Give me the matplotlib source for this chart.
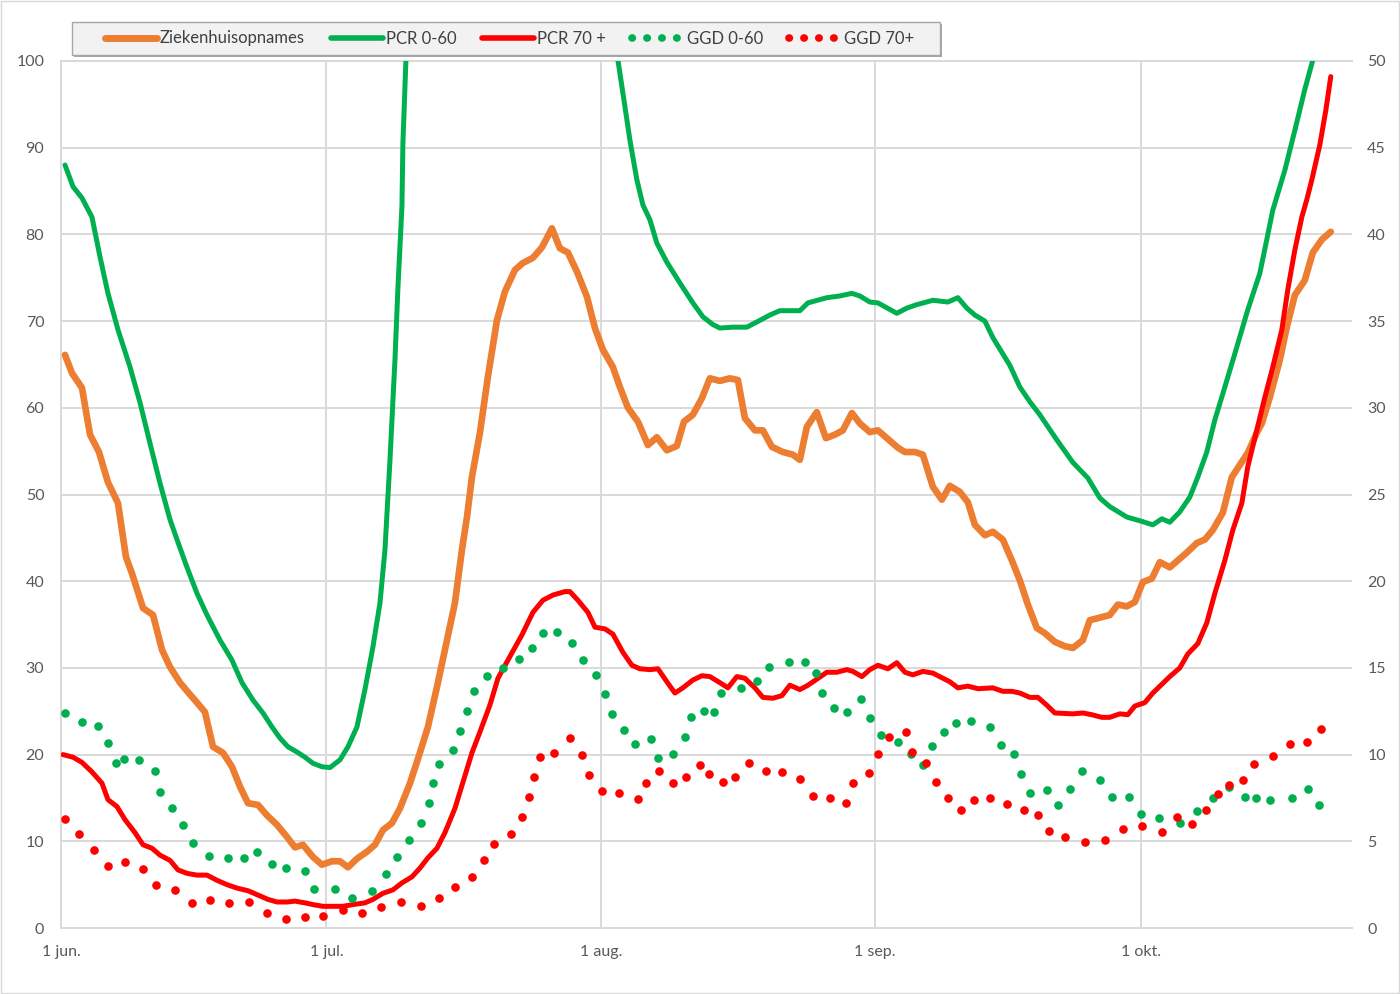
import matplotlib
matplotlib.use("Agg")
import matplotlib.pyplot as plt
from matplotlib.lines import Line2D
from matplotlib.patches import Rectangle
import numpy as np

plt.rcParams['font.family'] = ['Lato', 'DejaVu Sans']

# ---------------- data (days since 1 June) ----------------
month_ticks = [0, 30, 61, 92, 122]
month_labels = ["1 jun.", "1 jul.", "1 aug.", "1 sep.", "1 okt."]
left_ticks = list(range(0, 101, 10))
right_ticks = list(range(0, 51, 5))

zkh_days = [0.45, 1.24, 2.37, 3.28, 4.29, 5.31, 6.44, 7.34, 8.02, 9.27, 10.40, 11.41, 12.32, 13.45,
            14.35, 15.37, 16.27, 17.18, 18.31, 19.32, 20.23, 21.13, 22.26, 23.28, 24.41, 25.54,
            26.44, 27.34, 28.47, 29.49, 30.62, 31.53, 32.43, 33.45, 34.58, 35.48, 36.38, 37.40,
            38.31, 39.44, 40.56, 41.47, 42.49, 43.39, 44.52, 45.31, 45.88, 46.44, 47.34, 48.25,
            49.27, 50.17, 51.30, 52.20, 53.33, 54.35, 55.48, 56.38, 57.29, 58.31, 59.44, 60.34,
            61.24, 62.37, 63.16, 64.07, 65.20, 66.33, 67.34, 68.47, 69.60, 70.40, 71.41, 72.43,
            73.33, 74.46, 75.59, 76.50, 77.29, 78.42, 79.32, 80.34, 81.58, 82.71, 83.50, 84.29,
            85.42, 86.44, 87.46, 88.36, 89.38, 90.28, 91.41, 92.32, 93.33, 94.58, 95.37, 96.50,
            97.40, 98.53, 99.55, 100.45, 101.58, 102.49, 103.28, 104.41, 105.31, 106.44, 107.46,
            108.36, 109.27, 110.28, 111.19, 112.32, 113.45, 114.35, 115.48, 116.27, 117.40,
            118.53, 119.44, 120.45, 121.36, 122.26, 123.28, 124.18, 125.31, 126.21, 127.23,
            128.36, 129.27, 130.17, 131.30, 132.32, 133.22, 134.12, 135.14, 135.71, 136.61,
            137.74, 138.53, 139.44, 140.56, 141.47, 142.49, 143.50]
zkh_vals = [66.1, 64.0, 62.3, 56.9, 54.9, 51.4, 49.0, 42.8, 40.9, 36.9, 36.1, 32.1, 30.1, 28.3,
            27.2, 26.0, 24.9, 20.9, 20.2, 18.6, 16.3, 14.4, 14.2, 13.0, 11.9, 10.5,
            9.3, 9.6, 8.2, 7.3, 7.7, 7.7, 7.0, 8.0, 8.8, 9.6, 11.3, 12.1,
            13.8, 16.7, 20.2, 23.2, 27.8, 32.1, 37.5, 43.6, 47.4, 52.0, 57.1, 63.6,
            70.1, 73.4, 75.9, 76.7, 77.3, 78.5, 80.7, 78.4, 77.9, 75.7, 72.8, 69.2,
            66.7, 64.7, 62.4, 60.0, 58.4, 55.7, 56.6, 55.1, 55.6, 58.4, 59.2, 61.1,
            63.4, 63.1, 63.4, 63.2, 58.8, 57.4, 57.4, 55.5, 54.9, 54.6, 54.0, 57.8,
            59.5, 56.5, 56.9, 57.4, 59.4, 58.2, 57.2, 57.4, 56.5, 55.4, 54.9, 54.9,
            54.6, 50.9, 49.4, 51.0, 50.3, 49.1, 46.5, 45.3, 45.7, 44.8, 42.4,
            40.1, 37.3, 34.6, 34.0, 33.0, 32.5, 32.3, 33.2, 35.5, 35.8,
            36.1, 37.3, 37.1, 37.6, 39.9, 40.3, 42.2, 41.6, 42.4, 43.3,
            44.4, 44.8, 45.9, 47.9, 52.0, 53.4, 54.8, 57.1, 58.2, 61.2,
            65.5, 69.3, 73.0, 74.7, 77.9, 79.4, 80.3]

pcr060_days = [0.45, 1.36, 2.37, 3.50, 4.41, 5.31, 6.44, 7.80, 8.93, 10.06, 11.19, 12.32, 13.11,
               14.24, 15.37, 16.50, 17.97, 19.32, 20.45, 21.69, 22.82, 23.84, 24.75, 25.65, 26.67,
               27.57, 28.47, 29.49, 30.40, 31.53, 32.43, 33.45, 34.35, 35.25, 36.05, 36.61, 37.18,
               37.74, 38.08, 38.53, 38.64, 38.98, 39.6, 62.4, 62.94, 63.62, 64.29, 65.08, 65.76,
               66.55, 67.34, 68.47, 69.94, 71.41, 72.54, 73.67, 74.46, 75.93, 77.51, 78.64, 80.11,
               81.24, 83.50, 84.41, 86.55, 88.02, 89.38, 90.28, 91.41, 92.32, 94.46, 95.59, 96.72,
               98.53, 100.23, 101.36, 102.37, 103.28, 104.41, 105.31, 107.23, 108.36, 109.49,
               110.62, 112.54, 114.35, 116.05, 117.40, 118.53, 120.45, 122.15, 123.39, 124.41,
               125.31, 126.44, 127.57, 128.47, 129.49, 130.40, 131.53, 132.88, 134.12, 135.48,
               136.27, 136.95, 138.31, 139.44, 140.56, 141.47, 142.4]
pcr060_vals = [88.0, 85.5, 84.2, 82.0, 77.4, 73.2, 69.0, 64.7, 60.6, 55.9, 51.3, 47.1, 44.8,
               41.6, 38.6, 36.1, 33.2, 30.9, 28.3, 26.3, 24.8, 23.2, 21.9, 20.9, 20.3,
               19.7, 19.0, 18.6, 18.5, 19.4, 20.9, 23.2, 27.5, 32.4, 37.5, 43.6, 54.0,
               65.5, 73.9, 83.2, 90.5, 100.1, 110.0, 108.0, 100.1, 95.5, 90.9, 86.3, 83.4,
               81.7, 79.0, 76.8, 74.4, 72.1, 70.5, 69.6, 69.2, 69.3, 69.3, 69.9, 70.7,
               71.2, 71.2, 72.1, 72.7, 72.9, 73.2, 72.9, 72.2, 72.1, 70.9, 71.5, 71.9,
               72.4, 72.2, 72.7, 71.5, 70.7, 70.0, 68.1, 64.9, 62.4, 60.7,
               59.2, 56.3, 53.7, 51.9, 49.6, 48.6, 47.4, 46.9, 46.5, 47.2,
               46.8, 48.0, 49.7, 52.0, 54.9, 58.6, 62.4, 67.0, 71.3, 75.5,
               79.4, 82.8, 87.4, 92.0, 96.7, 100.1, 106.0]

pcr70_days = [0.23, 1.36, 2.37, 3.50, 4.63, 5.31, 6.33, 7.23, 8.36, 9.27, 10.28, 11.19, 12.32,
              13.22, 14.24, 15.37, 16.50, 17.63, 18.76, 19.89, 21.13, 22.26, 23.39, 24.41, 25.54,
              26.44, 27.57, 28.47, 29.60, 30.73, 31.86, 32.99, 34.35, 35.25, 36.38, 37.51, 38.53,
              39.66, 40.56, 41.47, 42.49, 43.39, 44.52, 45.42, 46.44, 47.34, 48.47, 49.38, 50.51,
              52.09, 53.33, 54.46, 55.59, 56.95, 57.51, 58.42, 59.55, 60.34, 61.47, 62.37, 63.50,
              64.52, 65.42, 66.55, 67.46, 68.47, 69.38, 70.28, 71.41, 72.43, 73.33, 74.46, 75.37,
              76.38, 77.29, 78.42, 79.32, 80.45, 81.47, 82.37, 83.50, 84.41, 85.42, 86.55, 87.68,
              88.81, 89.49, 90.51, 91.41, 92.32, 93.45, 94.46, 95.37, 96.27, 97.40, 98.53, 100.45,
              101.36, 102.49, 103.62, 105.31, 106.44, 107.46, 108.36, 109.49, 110.40, 111.41,
              112.32, 114.35, 115.48, 116.50, 117.63, 118.53, 119.66, 120.56, 121.36, 122.49,
              123.39, 124.41, 125.31, 126.44, 127.34, 128.47, 129.49, 130.40, 131.53, 132.43,
              133.45, 134.12, 135.14, 136.05, 136.95, 137.97, 138.64, 139.44, 140.23, 140.79,
              141.36, 142.26, 142.94, 143.50]
pcr70_vals = [20.0, 19.7, 19.1, 18.0, 16.7, 14.8, 14.0, 12.5, 11.0, 9.6, 9.2, 8.4, 7.8,
              6.7, 6.3, 6.1, 6.1, 5.5, 5.0, 4.6, 4.3, 3.8, 3.3, 3.0, 3.0,
              3.1, 2.9, 2.7, 2.5, 2.5, 2.5, 2.7, 2.9, 3.3, 4.0, 4.4, 5.2,
              5.9, 6.9, 8.1, 9.2, 11.0, 13.8, 16.8, 20.2, 22.6, 25.7, 28.8, 30.9,
              33.8, 36.4, 37.8, 38.4, 38.8, 38.8, 37.8, 36.4, 34.7, 34.5, 33.9, 31.8,
              30.3, 29.9, 29.8, 29.9, 28.4, 27.1, 27.7, 28.6, 29.1, 29.0, 28.3, 27.7,
              29.0, 28.8, 27.7, 26.6, 26.5, 26.8, 28.0, 27.5, 28.0, 28.7, 29.5, 29.5,
              29.8, 29.6, 29.0, 29.8, 30.3, 29.9, 30.6, 29.5, 29.2, 29.6, 29.4, 28.4,
              27.7, 27.9, 27.6, 27.7, 27.3, 27.3, 27.1, 26.6, 26.6, 25.7,
              24.8, 24.7, 24.8, 24.6, 24.3, 24.3, 24.7, 24.6, 25.6, 26.0,
              27.1, 28.1, 29.0, 30.0, 31.6, 32.8, 35.2, 38.6, 42.4, 45.9,
              49.0, 53.2, 57.4, 61.2, 64.7, 69.0, 73.6, 78.2, 82.0, 84.0,
              86.3, 90.3, 94.3, 98.2]

ggd060_days = [0.45, 2.37, 4.18, 5.31, 6.21, 7.12, 8.81, 10.62, 11.19, 12.54, 13.79, 14.92, 16.72,
               18.87, 20.68, 22.15, 23.84, 25.42, 27.57, 28.59, 30.96, 32.88, 35.14, 36.72, 37.97,
               39.32, 40.68, 41.58, 42.03, 42.71, 44.29, 45.08, 45.88, 46.67, 48.14, 49.94, 51.75,
               53.22, 54.46, 56.05, 57.74, 58.98, 60.45, 61.47, 62.26, 63.62, 64.86, 66.67, 67.46,
               69.15, 70.51, 71.19, 72.66, 73.79, 74.58, 76.84, 78.64, 80.00, 82.26, 84.07, 85.31,
               85.99, 87.34, 88.81, 90.40, 91.41, 92.66, 94.58, 96.05, 97.40, 98.42, 99.77, 101.13,
               102.82, 104.97, 106.21, 107.68, 108.47, 109.49, 111.41, 112.66, 114.01, 115.37,
               117.40, 118.76, 120.68, 122.03, 124.07, 126.44, 128.36, 130.17, 131.98, 133.79,
               135.03, 136.61, 139.10, 140.90, 142.15]
ggd060_vals = [24.8, 23.8, 23.3, 21.3, 19.0, 19.5, 19.4, 18.1, 15.7, 13.8, 11.9, 9.8, 8.3,
               8.1, 8.1, 8.8, 7.4, 6.9, 6.6, 4.5, 4.5, 3.5, 4.3, 6.2, 8.2,
               10.1, 12.1, 14.4, 16.7, 18.9, 20.5, 22.7, 25.0, 27.3, 29.1, 30.0, 31.0,
               32.3, 34.0, 34.1, 32.9, 30.9, 29.2, 27.0, 24.7, 22.8, 21.2, 21.8, 19.6,
               20.1, 22.0, 24.3, 25.0, 24.9, 27.1, 27.7, 28.5, 30.1, 30.7, 30.7, 29.4,
               27.1, 25.4, 24.9, 26.4, 24.2, 22.3, 21.5, 20.1, 18.8, 21.0, 22.6, 23.6,
               23.9, 23.2, 21.1, 20.1, 17.8, 15.6, 15.9, 14.2, 16.0, 18.1,
               17.1, 15.1, 15.1, 13.1, 12.7, 12.1, 13.5, 15.0, 16.3, 15.1,
               15.0, 14.8, 15.0, 16.0, 14.2]

ggd70_days = [0.45, 2.03, 3.73, 5.31, 7.23, 9.27, 10.73, 12.88, 14.80, 16.84, 18.98, 21.24, 23.28,
              25.42, 27.57, 29.60, 31.86, 34.01, 36.16, 38.42, 40.68, 42.71, 44.52, 46.44, 47.80,
              48.93, 50.85, 52.09, 52.88, 53.45, 54.12, 55.71, 57.51, 58.87, 59.66, 61.13, 63.05,
              65.20, 66.10, 67.57, 69.15, 70.62, 72.20, 73.22, 74.80, 76.16, 77.74, 79.66, 81.47,
              83.50, 84.97, 86.89, 88.70, 89.49, 91.30, 92.32, 93.56, 95.48, 96.16, 97.74, 98.87,
              100.23, 101.69, 103.16, 104.97, 106.89, 108.81, 110.40, 111.64, 113.45, 115.71,
              117.97, 120.00, 122.15, 124.41, 126.10, 127.80, 129.38, 130.73, 131.98, 133.56,
              134.80, 136.95, 138.87, 140.79, 142.37]
ggd70_vals = [12.6, 10.8, 9.0, 7.2, 7.6, 6.8, 5.0, 4.4, 2.9, 3.2, 2.9, 3.0, 1.7,
              1.0, 1.3, 1.4, 2.1, 1.7, 2.4, 3.0, 2.5, 3.5, 4.7, 5.9, 7.8,
              9.7, 10.8, 12.8, 15.1, 17.4, 19.7, 20.2, 21.9, 20.0, 17.6, 15.8, 15.6,
              14.9, 16.7, 18.1, 16.7, 17.4, 18.8, 17.8, 16.8, 17.4, 19.0, 18.1, 18.0,
              17.2, 15.2, 15.0, 14.4, 16.7, 17.9, 20.1, 22.0, 22.6, 20.3, 19.0, 16.8,
              15.0, 13.6, 14.8, 15.0, 14.3, 13.6, 13.0, 11.2, 10.5, 9.9,
              10.1, 11.4, 11.8, 11.1, 12.8, 12.0, 13.6, 15.5, 16.5, 17.1,
              18.9, 19.8, 21.2, 21.5, 23.0]

series_names = ["Ziekenhuisopnames", "PCR 0-60", "PCR 70 +", "GGD 0-60", "GGD 70+"]

# ---------------- styling ----------------
ORANGE = "#ED7D31"
GREEN = "#00B050"
RED = "#FF0000"
GRID = "#D9D9D9"
TXT = "#595959"

W, H = 1400, 994
fig = plt.figure(figsize=(W / 100, H / 100), dpi=100)
fig.patch.set_facecolor("white")

ax = fig.add_axes([61 / W, 1 - 928 / H, (1352 - 61) / W, (928 - 61) / H])
ax.set_xlim(0, 145.9)
ax.set_ylim(0, 100)

ax.set_xticks(month_ticks)
ax.set_xticklabels(month_labels)
ax.set_yticks(left_ticks)
ax.grid(True, color=GRID, linewidth=1.4, zorder=0)
ax.set_axisbelow(True)
ax.spines["right"].set_visible(False)
for side in ["left", "bottom", "top"]:
    ax.spines[side].set_color(GRID)
    ax.spines[side].set_linewidth(1.4)
ax.tick_params(axis="both", length=0, labelsize=11.5, labelcolor=TXT)
ax.tick_params(axis="y", pad=12)
ax.tick_params(axis="x", pad=12.5)

ax2 = ax.twinx()
ax2.set_ylim(0, 50)
ax2.set_yticks(right_ticks)
for s in ax2.spines.values():
    s.set_visible(False)
ax2.tick_params(axis="y", length=0, labelsize=11.5, labelcolor=TXT, pad=11)

lkw = dict(solid_joinstyle="round", solid_capstyle="round")
ax.plot(zkh_days, zkh_vals, color=ORANGE, lw=4.8, zorder=3, **lkw)
ax.plot(pcr060_days, pcr060_vals, color=GREEN, lw=3.6, zorder=4, **lkw)
ax.plot(pcr70_days, pcr70_vals, color=RED, lw=3.6, zorder=5, **lkw)
ax.plot(ggd060_days, ggd060_vals, linestyle="none", marker="o", ms=6.2, mew=0,
        color=GREEN, zorder=6)
ax.plot(ggd70_days, ggd70_vals, linestyle="none", marker="o", ms=6.2, mew=0,
        color=RED, zorder=7)

# ---------------- legend ----------------
lx0, ly0, lx1, ly1 = 72, 22, 940, 55
fig.patches.append(Rectangle((lx0 / W + 2 / W, 1 - ly1 / H - 2 / H), (lx1 - lx0) / W, (ly1 - ly0) / H,
                             transform=fig.transFigure, facecolor="#A6A6A6", edgecolor="none",
                             zorder=1))
fig.patches.append(Rectangle((lx0 / W, 1 - ly1 / H), (lx1 - lx0) / W, (ly1 - ly0) / H,
                             transform=fig.transFigure, facecolor="#F2F2F2", edgecolor="#A6A6A6",
                             linewidth=1.0, zorder=2))

dotstyle = dict(linestyle=(0, (0.05, 1.9)), dash_capstyle="round", linewidth=5.5)
handles = [
    Line2D([], [], color=ORANGE, lw=5.0, solid_capstyle="round"),
    Line2D([], [], color=GREEN, lw=4.0, solid_capstyle="round"),
    Line2D([], [], color=RED, lw=4.0, solid_capstyle="round"),
    Line2D([], [], color=GREEN, **dotstyle),
    Line2D([], [], color=RED, **dotstyle),
]
leg = fig.legend(handles, series_names, loc="center left",
                 bbox_to_anchor=(90 / W, 1 - 38.5 / H), ncol=5, frameon=False,
                 fontsize=12, handlelength=3.1, handletextpad=0.2, columnspacing=1.55,
                 labelcolor="#404040")
leg.set_zorder(3)

# chart area border
fig.patches.append(Rectangle((1 / W, 1 / H), (W - 2) / W, (H - 2) / H, transform=fig.transFigure,
                             facecolor="none", edgecolor=GRID, linewidth=1.0, zorder=0))

fig.savefig("out.png", dpi=100, facecolor="white")
